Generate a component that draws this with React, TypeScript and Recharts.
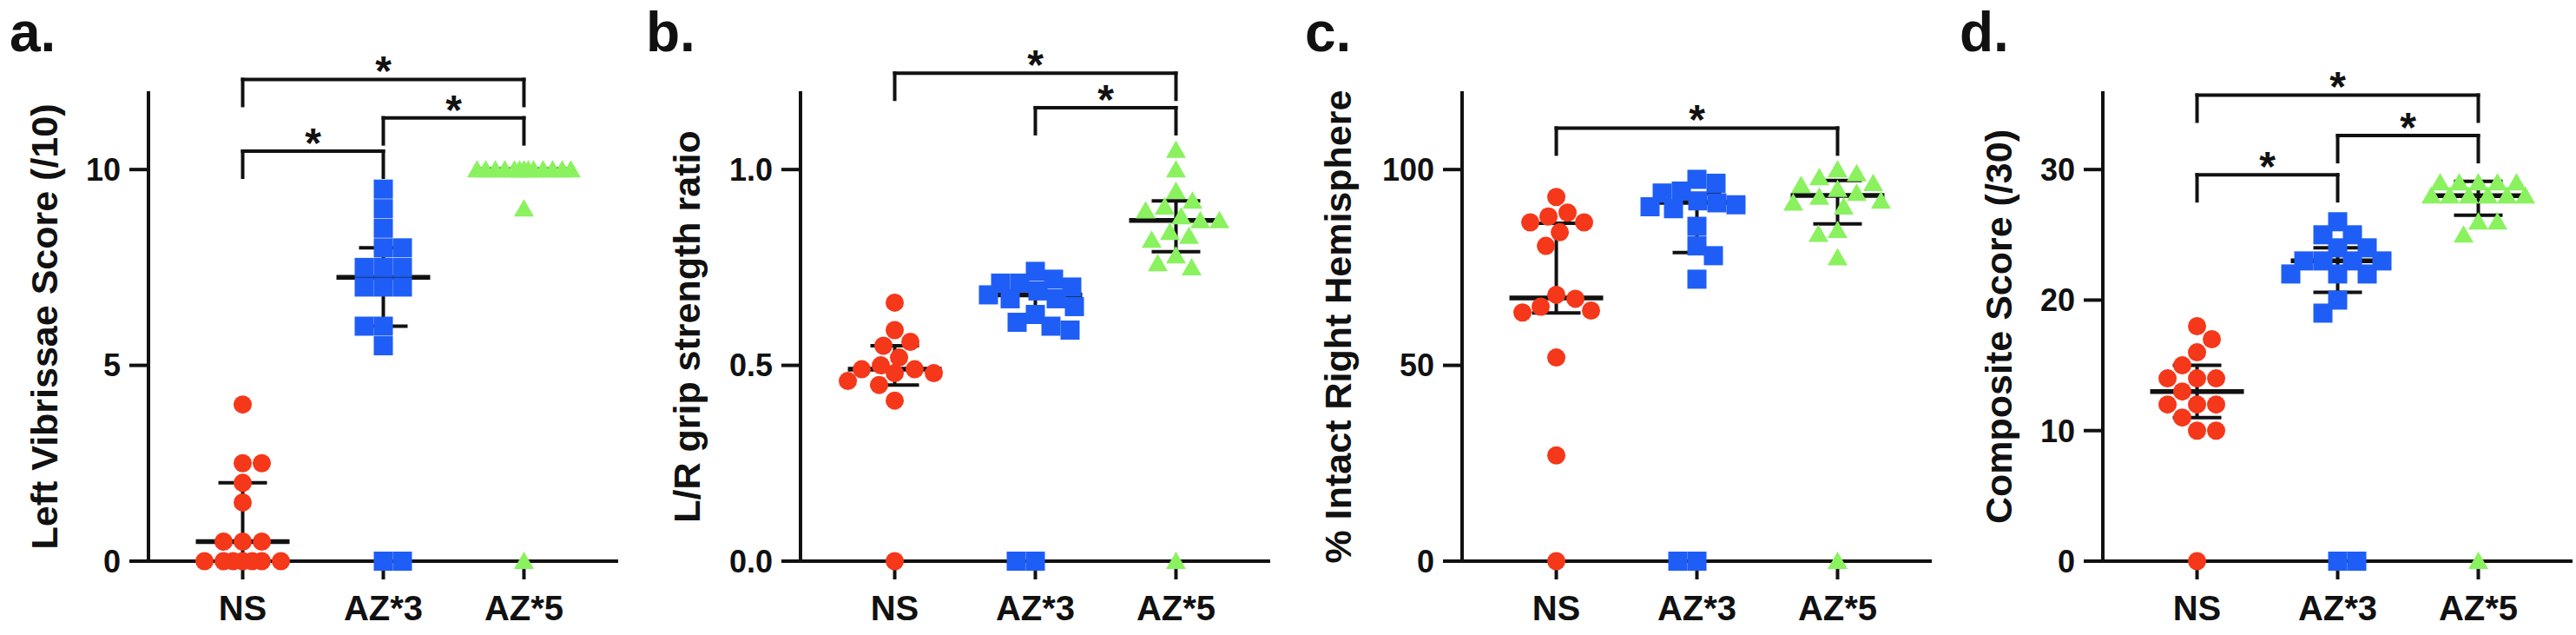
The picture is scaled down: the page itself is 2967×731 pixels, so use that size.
import React from 'react'
import { ReferenceDot, ReferenceLine, Scatter, ScatterChart, XAxis, YAxis } from 'recharts'

const groups = ['NS', 'AZ*3', 'AZ*5']

// a. left vibrissae score
const vibNS = [4, 2.5, 2.5, 2, 1.5, 0.5, 0.5, 0.5, 0, 0, 0, 0, 0, 0, 0]
const vibAZ3 = [9.5, 9, 8.5, 8, 8, 7.5, 7.5, 7.5, 7, 7, 7, 6, 6, 5.5, 0, 0]
const vibAZ5 = [10, 10, 10, 10, 10, 10, 10, 10, 10, 10, 10, 10, 10, 9, 0]
const vibMedian = [0.5, 7.25, 10]
const vibQ1 = [0, 6, 10]
const vibQ3 = [2, 8, 10]

// b. grip strength ratio
const gripNS = [0.66, 0.59, 0.56, 0.55, 0.52, 0.5, 0.49, 0.49, 0.48, 0.48, 0.46, 0.45, 0.41, 0]
const gripAZ3 = [0.74, 0.72, 0.71, 0.71, 0.7, 0.69, 0.68, 0.67, 0.67, 0.65, 0.63, 0.61, 0.6, 0.59, 0, 0]
const gripAZ5 = [1.05, 1.0, 0.945, 0.92, 0.905, 0.895, 0.88, 0.87, 0.87, 0.84, 0.83, 0.82, 0.78, 0.76, 0.75, 0]
const gripMedian = [0.49, 0.68, 0.87]
const gripQ1 = [0.45, 0.61, 0.79]
const gripQ3 = [0.55, 0.705, 0.92]

// c. % intact right hemisphere
const hemiNS = [93, 89, 88, 86.5, 86.5, 84, 80.5, 68, 67, 65, 64, 63.5, 52, 27, 0]
const hemiAZ3 = [97.5, 96.5, 94.5, 94, 92, 91.5, 91, 90.5, 90, 85.5, 80.5, 78, 72, 0, 0]
const hemiAZ5 = [100, 99, 98, 96.5, 96, 95, 94, 93, 92, 91.5, 90.5, 84.5, 83.5, 77.5, 0]
const hemiMedian = [67.2, 91.6, 93.4]
const hemiQ1 = [63.4, 78.8, 86.1]
const hemiQ3 = [86.3, 93.8, 97.2]

// d. composite score
const compNS = [18, 17, 16, 15, 14, 14, 14, 13, 12, 12, 12, 11, 10, 10, 0]
const compAZ3 = [26, 25, 25, 24, 24, 23, 23, 23, 23, 22, 22, 22, 20, 19, 0, 0]
const compAZ5 = [29, 29, 29, 29, 29, 28, 28, 28, 28, 28, 28, 26, 26, 25, 0]
const compMedian = [13, 23, 28]
const compQ1 = [11, 20.6, 26.5]
const compQ3 = [15, 24, 29.1]

// significance comparisons (group numbers)
const vibPairs = [[1, 3], [2, 3], [1, 2]]
const gripPairs = [[1, 3], [2, 3]]
const hemiPairs = [[1, 3]]
const compPairs = [[1, 3], [2, 3], [1, 2]]

const FONT = '"Liberation Sans", Arial, Helvetica, sans-serif'
const INK = '#111'
const COLORS = ['#F5371A', '#1F5EF6', '#89F25E']
const KINDS = ['circle', 'square', 'triangle']

const Y_W = 150
const PLOT_W = 541
const PLOT_TOP = 105
const PLOT_BOTTOM = 646
const CHART_H = 731
const CAT_PX = 162
const LEG_PX = 30
const STAR_PX = 20

const panels = [
  {
    letter: 'a.', title: 'Left Vibrissae Score (/10)', yMax: 12, ticks: [0, 5, 10], dec: 0,
    values: [vibNS, vibAZ3, vibAZ5], med: vibMedian, q1: vibQ1, q3: vibQ3,
    pairs: vibPairs, bracketY: [12.3, 11.32, 10.47],
    axisX: 171, titleX: 51, letterX: 11,
  },
  {
    letter: 'b.', title: 'L/R grip strength ratio', yMax: 1.2, ticks: [0, 0.5, 1], dec: 1,
    values: [gripNS, gripAZ3, gripAZ5], med: gripMedian, q1: gripQ1, q3: gripQ3,
    pairs: gripPairs, bracketY: [1.246, 1.158],
    axisX: 922, titleX: 791, letterX: 744,
  },
  {
    letter: 'c.', title: '% Intact Right Hemisphere', yMax: 120, ticks: [0, 50, 100], dec: 0,
    values: [hemiNS, hemiAZ3, hemiAZ5], med: hemiMedian, q1: hemiQ1, q3: hemiQ3,
    pairs: hemiPairs, bracketY: [110.6],
    axisX: 1684, titleX: 1541, letterX: 1503,
  },
  {
    letter: 'd.', title: 'Composite Score (/30)', yMax: 36, ticks: [0, 10, 20, 30], dec: 0,
    values: [compNS, compAZ3, compAZ5], med: compMedian, q1: compQ1, q3: compQ3,
    pairs: compPairs, bracketY: [35.7, 32.6, 29.6],
    axisX: 2422, titleX: 2302, letterX: 2257,
  },
]

// beeswarm: horizontal pixel offsets, balanced left/right
function swarm(values: number[], pxPerY: number): number[] {
  const D = 22
  const MAX = 54
  const order = values.map((_, i) => i).sort((a, b) => values[b] - values[a])
  const placed: { x: number; y: number }[] = []
  const out = new Array(values.length).fill(0)
  let bias = 0
  for (const i of order) {
    const y = values[i] * pxPerY
    let best = 0
    let score = -1
    let done = false
    for (let k = 0; k <= MAX && !done; k++) {
      const cands = k === 0 ? [0] : bias > 0 ? [-k, k] : [k, -k]
      for (const s of cands) {
        let m = Infinity
        for (const p of placed) m = Math.min(m, Math.hypot(p.x - s, p.y - y))
        if (m >= D) {
          best = s
          done = true
          break
        }
        if (m > score + 0.5) {
          score = m
          best = s
        }
      }
    }
    bias += Math.sign(best)
    placed.push({ x: best, y })
    out[i] = best
  }
  return out
}

function Marker({ cx, cy, kind, color }: any) {
  if (cx == null || cy == null) return null
  if (kind === 'circle') return <circle cx={cx} cy={cy} r={10.5} fill={color} />
  if (kind === 'square') return <rect x={cx - 11} y={cy - 11} width={22} height={22} fill={color} />
  return <polygon points={`${cx},${cy - 11} ${cx + 11.5},${cy + 9} ${cx - 11.5},${cy + 9}`} fill={color} />
}

function seg(key: string, x1: number, y1: number, x2: number, y2: number, w: number, cap = 'butt') {
  return (
    <ReferenceLine
      key={key}
      segment={[{ x: x1, y: y1 }, { x: x2, y: y2 }]}
      stroke={INK}
      strokeWidth={w}
      strokeLinecap={cap as any}
      ifOverflow="visible"
    />
  )
}

function Panel({ cfg }: { cfg: (typeof panels)[number] }) {
  const pxPerY = (PLOT_BOTTOM - PLOT_TOP) / cfg.yMax
  const series = cfg.values.map((vals, gi) => {
    const offs = swarm(vals, pxPerY)
    return vals.map((v, j) => ({ x: gi + 1 + offs[j] / CAT_PX, y: v }))
  })
  const medHalf = 54 / CAT_PX
  const capHalf = 28 / CAT_PX
  const legU = LEG_PX / pxPerY
  const starU = STAR_PX / pxPerY

  const stats: React.ReactNode[] = []
  cfg.med.forEach((m, gi) => {
    const c = gi + 1
    stats.push(seg(`w${gi}`, c, cfg.q1[gi], c, cfg.q3[gi], 4))
    stats.push(seg(`l${gi}`, c - capHalf, cfg.q1[gi], c + capHalf, cfg.q1[gi], 4))
    stats.push(seg(`u${gi}`, c - capHalf, cfg.q3[gi], c + capHalf, cfg.q3[gi], 4))
    stats.push(seg(`m${gi}`, c - medHalf, m, c + medHalf, m, 5.5))
  })

  const brackets: React.ReactNode[] = []
  cfg.pairs.forEach(([a, b], i) => {
    const y = cfg.bracketY[i]
    brackets.push(seg(`bh${i}`, a, y, b, y, 4, 'square'))
    brackets.push(seg(`bl${i}`, a, y, a, y - legU, 4, 'square'))
    brackets.push(seg(`br${i}`, b, y, b, y - legU, 4, 'square'))
    brackets.push(
      <ReferenceDot
        key={`s${i}`}
        x={(a + b) / 2}
        y={y + starU}
        r={0}
        ifOverflow="visible"
        shape={(p: any) => (
          <text
            x={p.cx}
            y={p.cy}
            dy="0.56em"
            textAnchor="middle"
            fontFamily={FONT}
            fontWeight={700}
            fontSize={48}
            fill={INK}
          >
            *
          </text>
        )}
      />
    )
  })

  return (
    <div style={{ position: 'absolute', left: cfg.axisX - Y_W, top: 0 }}>
      <ScatterChart
        width={Y_W + PLOT_W}
        height={CHART_H}
        margin={{ top: PLOT_TOP, right: 0, bottom: 0, left: 0 }}
      >
        <XAxis
          type="number"
          dataKey="x"
          domain={[0.33, 3.67]}
          ticks={[1, 2, 3]}
          tickFormatter={(v: number) => groups[Math.round(v) - 1]}
          height={CHART_H - PLOT_BOTTOM}
          axisLine={{ stroke: INK, strokeWidth: 4 }}
          tickLine={{ stroke: INK, strokeWidth: 4 }}
          tickSize={21}
          tickMargin={19}
          tick={{ fontSize: 40, fontWeight: 700, fill: INK, fontFamily: FONT }}
        />
        <YAxis
          type="number"
          dataKey="y"
          domain={[0, cfg.yMax]}
          ticks={cfg.ticks}
          tickFormatter={(v: number) => v.toFixed(cfg.dec)}
          width={Y_W}
          axisLine={{ stroke: INK, strokeWidth: 4 }}
          tickLine={{ stroke: INK, strokeWidth: 4 }}
          tickSize={22}
          tickMargin={10}
          tick={{ fontSize: 36, fontWeight: 700, fill: INK, fontFamily: FONT }}
        />
        {series.map((pts, gi) => (
          <Scatter
            key={groups[gi]}
            data={pts}
            isAnimationActive={false}
            shape={(p: any) => <Marker cx={p.cx} cy={p.cy} kind={KINDS[gi]} color={COLORS[gi]} />}
          />
        ))}
        {stats}
        {brackets}
      </ScatterChart>
    </div>
  )
}

export default function App() {
  return (
    <div
      style={{
        position: 'absolute',
        left: 0,
        top: 0,
        width: 2967,
        height: 731,
        overflow: 'hidden',
        background: '#fff',
        fontFamily: FONT,
      }}
    >
      {panels.map((cfg) => (
        <React.Fragment key={cfg.letter}>
          <Panel cfg={cfg} />
          <div
            style={{
              position: 'absolute',
              left: cfg.letterX,
              top: 5,
              fontSize: 64,
              fontWeight: 700,
              lineHeight: 1,
              color: INK,
            }}
          >
            {cfg.letter}
          </div>
          <div
            style={{
              position: 'absolute',
              left: cfg.titleX,
              top: (PLOT_TOP + PLOT_BOTTOM) / 2,
              transform: 'translate(-50%, -50%) rotate(-90deg)',
              fontSize: 43,
              fontWeight: 700,
              lineHeight: 1,
              whiteSpace: 'nowrap',
              color: INK,
            }}
          >
            {cfg.title}
          </div>
        </React.Fragment>
      ))}
    </div>
  )
}
